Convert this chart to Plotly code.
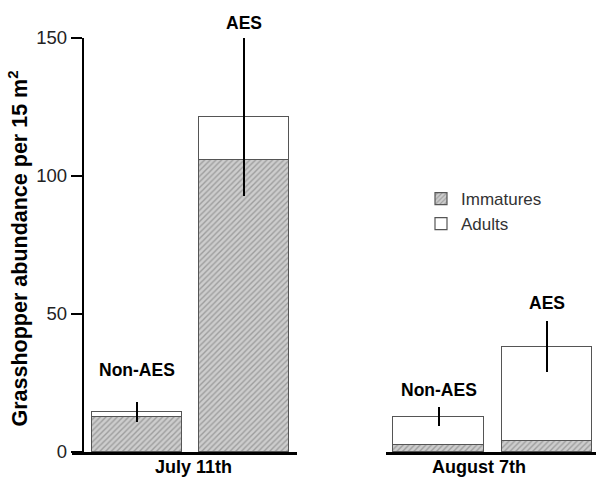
import plotly.graph_objects as go

W, H = 596, 479

sites = ["Non-AES", "AES"]
dates = ["July 11th", "August 7th"]
immatures = {"July 11th": [12.8, 105.7], "August 7th": [2.5, 4.1]}
adults = {"July 11th": [1.7, 15.8], "August 7th": [10.3, 34.1]}
errors = {"July 11th": [3.6, 28.7], "August 7th": [3.4, 9.3]}
yticks = [0, 50, 100, 150]

FONT = "Arial, Liberation Sans, sans-serif"

def px(xp):
    return xp / W

def py(yp):
    return 1 - yp / H

fig = go.Figure()
axes = [("x", "xaxis"), ("x2", "xaxis2")]
for i, d in enumerate(dates):
    xr = axes[i][0]
    fig.add_trace(go.Bar(
        x=[0, 1], y=immatures[d], xaxis=xr, yaxis="y", width=0.835,
        name="Immatures", showlegend=(i == 0), legendrank=1,
        marker=dict(color="#c8c8c8", line=dict(color="#555555", width=1.2),
                    pattern=dict(shape="/", fgcolor="#6e6e6e", bgcolor="#cdcdcd",
                                 size=4, solidity=0.35)),
    ))
    fig.add_trace(go.Bar(
        x=[0, 1], y=adults[d], xaxis=xr, yaxis="y", width=0.835,
        name="Adults", showlegend=(i == 0), legendrank=2,
        marker=dict(color="white", line=dict(color="#555555", width=1.2)),
        error_y=dict(type="data", array=errors[d], visible=True,
                     color="black", thickness=2.4, width=0),
    ))

ydom = [py(452), py(38)]
fig.update_layout(
    width=W, height=H, barmode="stack",
    margin=dict(l=0, r=0, t=0, b=0),
    plot_bgcolor="white", paper_bgcolor="white",
    font=dict(family=FONT, color="#222222"),
    xaxis=dict(domain=[px(72), px(297)], range=[-0.607, 1.495], showticklabels=False,
               ticks="", showgrid=False, zeroline=False, showline=True,
               linecolor="black", linewidth=2.5, anchor="y", fixedrange=True),
    xaxis2=dict(domain=[px(386), 1.0], range=[-0.486, 1.45], showticklabels=False,
                ticks="", showgrid=False, zeroline=False, showline=True,
                linecolor="black", linewidth=2.5, anchor="y", fixedrange=True),
    yaxis=dict(domain=ydom, range=[0, 150], tickvals=yticks, ticks="outside",
               ticklen=11, tickwidth=2.3, tickcolor="black", showgrid=False,
               zeroline=False, showline=True, linecolor="black", linewidth=2.3,
               anchor="free", position=px(83), automargin=False, fixedrange=True,
               tickfont=dict(size=18.5, color="#222222", family=FONT)),
    showlegend=True,
    legend=dict(x=px(421), y=py(181), xanchor="left", yanchor="top",
                bgcolor="rgba(0,0,0,0)", font=dict(size=17, color="#333333", family=FONT),
                traceorder="normal", itemwidth=30, tracegroupgap=0),
    bargap=0,
)

ann = []
label_y = {"July 11th": [29.7, 155.4], "August 7th": [22.5, 54.0]}
for i, d in enumerate(dates):
    xr = axes[i][0]
    for j, s in enumerate(sites):
        yv = label_y[d][j]
        if yv > 150:
            yref, yy = "paper", ydom[0] + (ydom[1] - ydom[0]) * yv / 150
        else:
            yref, yy = "y", yv
        ann.append(dict(x=j, y=yy, xref=xr, yref=yref, text="<b>%s</b>" % s,
                        xanchor="center", yanchor="middle",
                        showarrow=False, font=dict(size=17.5, color="black", family=FONT)))
ann.append(dict(x=0.53, y=py(466.5), xref="x", yref="paper", text="<b>July 11th</b>",
                xanchor="center", yanchor="middle", borderpad=0,
                showarrow=False, font=dict(size=18, color="black", family=FONT)))
ann.append(dict(x=0.373, y=py(466.5), xref="x2", yref="paper", text="<b>August 7th</b>",
                xanchor="center", yanchor="middle", borderpad=0,
                showarrow=False, font=dict(size=18, color="black", family=FONT)))
ann.append(dict(x=px(18), y=py(248.5), xref="paper", yref="paper",
                xanchor="center", yanchor="middle",
                text="<b>Grasshopper abundance per 15 m<sup>2</sup></b>", textangle=-90,
                showarrow=False, font=dict(size=21.5, color="black", family=FONT)))
fig.update_layout(annotations=ann)

fig.write_html("out.html", config={"displayModeBar": False},
               post_script="document.body.style.margin='0';document.body.style.overflow='hidden';")
